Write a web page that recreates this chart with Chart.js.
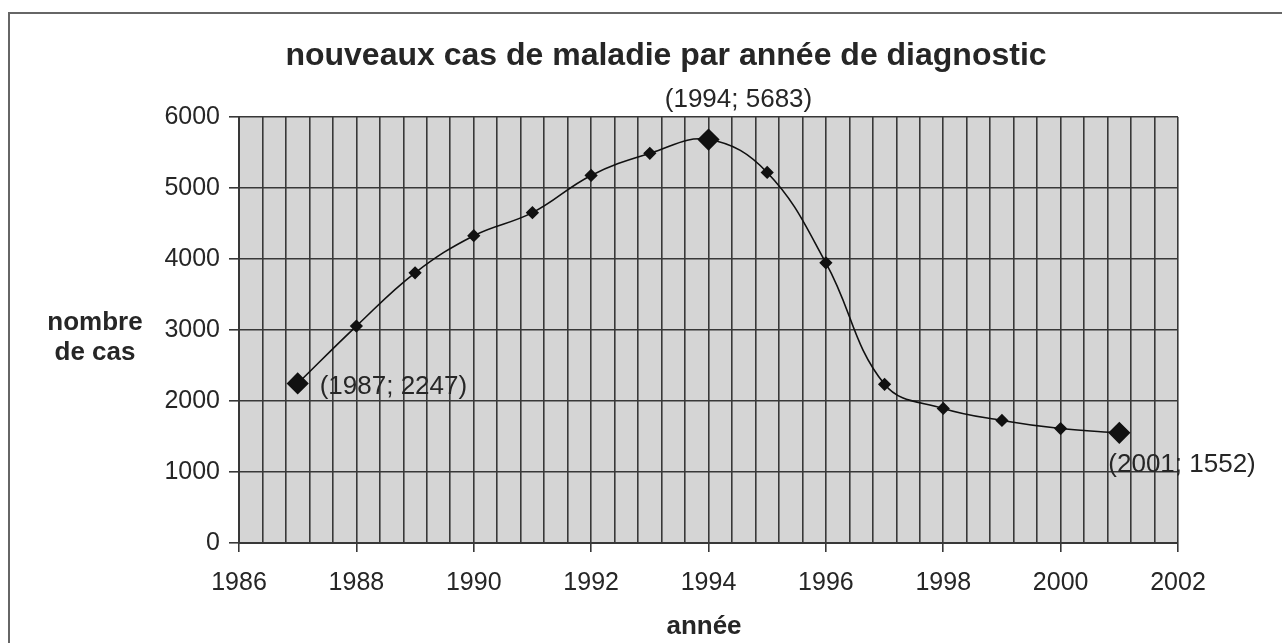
<!DOCTYPE html>
<html><head><meta charset="utf-8">
<script src="https://cdn.jsdelivr.net/npm/chart.js@4"></script>
<style>html,body{margin:0;padding:0;background:#fff}canvas{display:block}</style>
</head><body>
<canvas id="c" width="1282" height="643"></canvas>
<script>
// ---- data ----
const years = [1987, 1988, 1989, 1990, 1991, 1992, 1993, 1994, 1995, 1996, 1997, 1998, 1999, 2000, 2001];
const cases = [2247, 3055, 3805, 4328, 4653, 5177, 5488, 5683, 5219, 3946, 2235, 1895, 1726, 1612, 1552];
const labeledYears = [1987, 1994, 2001];
const chartTitle = 'nouveaux cas de maladie par année de diagnostic';
const yTitleLines = ['nombre', 'de cas'];
const xTitle = 'année';
const xMin = 1986, xMax = 2002, xGridStep = 0.4, xLabelStep = 2;
const yMin = 0, yMax = 6000, yStep = 1000;

// ---- styles ----
const FONT = "'Liberation Sans', Arial, sans-serif";
const TEXT = '#262626';
const GRID = '#383838';
const labelOffsets = {1987: [22, 3, 'left'], 1994: [30, -40, 'center'], 2001: [-11, 32, 'left']};

const points = years.map((y, i) => ({x: y, y: cases[i]}));
const isLabeled = ctx => labeledYears.includes(years[ctx.dataIndex]);
const isEvenYear = v => Math.abs(v - Math.round(v)) < 1e-6 && Math.round(v) % xLabelStep === 0;

const decor = {
  id: 'decor',
  beforeDraw(chart) {
    const {ctx, chartArea: a} = chart;
    ctx.save();
    ctx.fillStyle = '#d5d5d5';
    ctx.fillRect(a.left, a.top, a.right - a.left, a.bottom - a.top);
    ctx.restore();
  },
  afterDraw(chart) {
    const {ctx} = chart;
    const sx = chart.scales.x, sy = chart.scales.y;
    ctx.save();
    // outer frame
    ctx.strokeStyle = '#666';
    ctx.lineWidth = 2;
    ctx.beginPath();
    ctx.moveTo(9, 643); ctx.lineTo(9, 13); ctx.lineTo(1282, 13);
    ctx.stroke();
    ctx.fillStyle = TEXT;
    ctx.textBaseline = 'middle';
    // title
    ctx.font = 'bold 32px ' + FONT;
    ctx.textAlign = 'center';
    ctx.fillText(chartTitle, 666, 56);
    // y title
    ctx.font = 'bold 26px ' + FONT;
    ctx.fillText(yTitleLines[0], 95, 323);
    ctx.fillText(yTitleLines[1], 95, 353);
    // x title
    ctx.fillText(xTitle, 704, 627);
    // point labels
    ctx.font = '26px ' + FONT;
    labeledYears.forEach(yr => {
      const i = years.indexOf(yr);
      const px = sx.getPixelForValue(yr), py = sy.getPixelForValue(cases[i]);
      const [dx, dy, al] = labelOffsets[yr];
      ctx.textAlign = al;
      ctx.fillText('(' + yr + '; ' + cases[i] + ')', px + dx, py + dy);
    });
    ctx.restore();
  }
};

new Chart(document.getElementById('c'), {
  type: 'line',
  data: {
    datasets: [{
      data: points,
      borderColor: '#111',
      borderWidth: 1.6,
      tension: 0.4,
      pointStyle: 'rectRot',
      pointRadius: ctx => isLabeled(ctx) ? 10 : 5.5,
      pointBackgroundColor: '#111',
      pointBorderColor: '#111',
      fill: false
    }]
  },
  options: {
    responsive: false,
    animation: false,
    events: [],
    layout: {padding: {top: 117, right: 104, left: 0, bottom: 0}},
    plugins: {legend: {display: false}, tooltip: {enabled: false}, title: {display: false}},
    scales: {
      x: {
        type: 'linear', min: xMin, max: xMax,
        afterFit: s => { s.height = 100; },
        border: {color: GRID, width: 2},
        grid: {
          color: GRID, lineWidth: 1.6, drawTicks: true, tickLength: 9,
          tickColor: c => isEvenYear(c.tick.value) ? GRID : 'rgba(0,0,0,0)'
        },
        ticks: {
          stepSize: xGridStep, autoSkip: false, maxRotation: 0, padding: 16,
          color: TEXT, font: {family: FONT, size: 25},
          callback: v => isEvenYear(v) ? String(Math.round(v)) : ''
        }
      },
      y: {
        min: yMin, max: yMax,
        afterFit: s => { s.width = 239; },
        border: {color: GRID, width: 2},
        grid: {color: GRID, lineWidth: 1.6, tickLength: 10, tickColor: GRID},
        ticks: {
          stepSize: yStep, padding: 9, color: TEXT, font: {family: FONT, size: 25},
          callback: v => String(v)
        }
      }
    }
  },
  plugins: [decor]
});
</script>
</body></html>
